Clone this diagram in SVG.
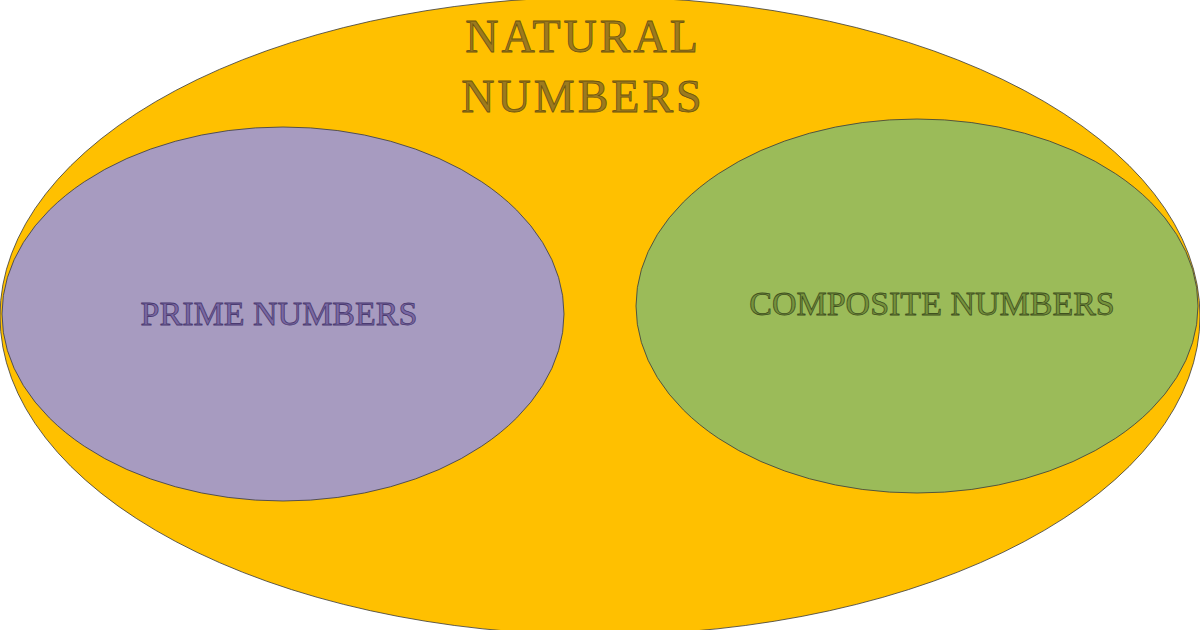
<svg xmlns="http://www.w3.org/2000/svg" width="1200" height="630" viewBox="0 0 1200 630">
<style>
.e{stroke:#3a3a3a;stroke-width:0.8}
.t{font-family:"Liberation Serif",serif;text-anchor:middle;stroke-width:0.8}
</style>
<rect width="1200" height="630" fill="#ffffff"/>
<g id="natural">
<ellipse class="e" cx="600" cy="316" rx="600" ry="319" fill="#FFC000"/>
<text class="t" x="583" y="52" font-size="46" fill="#9C7A1E" stroke="#6B5210" letter-spacing="3">NATURAL</text>
<text class="t" x="583" y="112" font-size="46" fill="#9C7A1E" stroke="#6B5210" letter-spacing="3">NUMBERS</text>
</g>
<g id="prime">
<ellipse class="e" cx="283" cy="314" rx="281" ry="187" fill="#A79BC0"/>
<text class="t" x="279" y="325" font-size="34" fill="#7A68A3" stroke="#4A3A70">PRIME NUMBERS</text>
</g>
<g id="composite">
<ellipse class="e" cx="917" cy="306" rx="281" ry="187" fill="#9BBB59"/>
<text class="t" x="932" y="315" font-size="34" fill="#76923C" stroke="#3F5020">COMPOSITE NUMBERS</text>
</g>
<g id="connectors"/>
</svg>
